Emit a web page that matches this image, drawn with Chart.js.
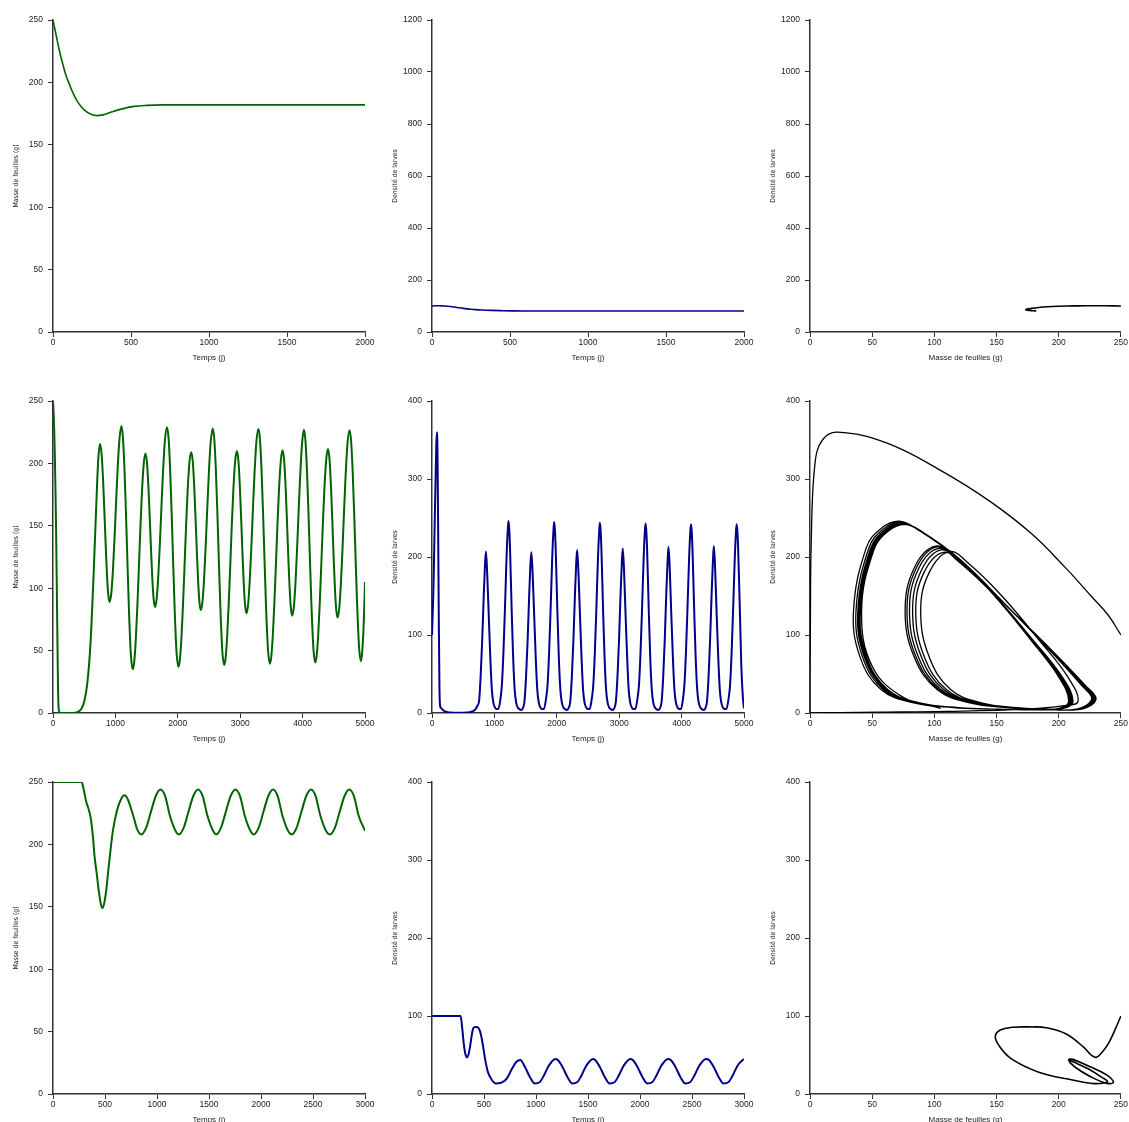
<!DOCTYPE html>
<html>
<head>
<meta charset="utf-8">
<script src="https://cdn.jsdelivr.net/npm/chart.js@4.4.0/dist/chart.umd.min.js"></script>
<style>
body { margin: 0; background: #fff; width: 1129px; height: 1122px; overflow: hidden; position: relative; }
canvas { position: absolute; }
</style>
</head>
<body>
<script>
// row 1 : stable equilibrium
const t1 = [0, 20, 40, 60, 80, 100, 130, 160, 200, 250, 280, 320, 380, 450, 520, 600, 700, 800, 1000, 1500, 2000];
const leaves1 = [250, 238, 226, 216, 207, 200, 191, 184, 178, 174, 173.4, 174, 176.5, 179, 180.8, 181.6, 182, 182, 182, 182, 182];
const larvae1 = [100, 100.8, 101, 100.6, 100, 99, 97, 94.5, 91, 87.5, 86, 84.5, 83, 82, 81.3, 81, 80.8, 80.8, 80.8, 80.8, 80.8];

// row 2 : oscillations
const t2 = [0, 10, 20, 30, 40, 50, 60, 70, 80, 85, 90, 100, 110, 120, 130, 150, 175, 200, 250, 300, 350, 400, 450, 500, 550, 600, 650, 700, 725,
  754, 779, 804, 829, 849, 864, 884, 907, 934, 959, 984, 1009, 1034, 1064,
  1097, 1120, 1145, 1170, 1195, 1215, 1225, 1237, 1250, 1277, 1300, 1325, 1350, 1375, 1400, 1425, 1455,
  1482, 1507, 1532, 1557, 1577, 1592, 1612, 1635, 1662, 1687, 1712, 1737, 1762, 1792,
  1827, 1852, 1877, 1902, 1927, 1947, 1957, 1969, 1982, 2009, 2032, 2057, 2082, 2107, 2132, 2157, 2187,
  2216, 2241, 2266, 2291, 2311, 2326, 2346, 2369, 2396, 2421, 2446, 2471, 2496, 2526,
  2560, 2585, 2610, 2635, 2660, 2680, 2690, 2702, 2715, 2742, 2765, 2790, 2815, 2840, 2865, 2890, 2920,
  2947, 2972, 2997, 3022, 3042, 3057, 3077, 3100, 3127, 3152, 3177, 3202, 3227, 3257,
  3292, 3317, 3342, 3367, 3392, 3412, 3422, 3434, 3447, 3474, 3497, 3522, 3547, 3572, 3597, 3622, 3652,
  3680, 3705, 3730, 3755, 3775, 3790, 3810, 3833, 3860, 3885, 3910, 3935, 3960, 3990,
  4022, 4045, 4070, 4095, 4120, 4140, 4150, 4162, 4175, 4202, 4225, 4250, 4275, 4300, 4325, 4350, 4380,
  4407, 4432, 4457, 4482, 4502, 4517, 4537, 4560, 4587, 4612, 4637, 4662, 4687, 4717,
  4752, 4777, 4802, 4827, 4852, 4872, 4882, 4894, 4907, 4934, 4957, 4982, 5000];
const leaves2 = [250, 240, 226, 205, 178, 145, 105, 62, 22, 10, 4, 1, 0.3, 0, 0, 0, 0, 0, 0, 0, 0.2, 1, 3, 9, 24, 55, 110, 175, 203,
  215.5, 207.4, 185, 154.3, 128.7, 112, 95.8, 89, 95.8, 113.1, 137.9, 166.4, 193.6, 218.7,
  230, 221, 195.9, 159, 117.5, 85.7, 71.7, 57.4, 45.3, 35, 40.2, 57.1, 83.3, 114.9, 147.5, 176.3, 200.2,
  208, 200.1, 178.4, 148.5, 123.6, 107.4, 91.6, 85, 91.9, 109.6, 135, 164, 191.8, 217.5,
  229, 220.2, 195.4, 159.1, 118.2, 86.9, 73.1, 59, 47.2, 37, 42.2, 59, 85, 116.5, 148.8, 177.5, 201.3,
  209, 200.9, 178.5, 147.8, 122.2, 105.5, 89.3, 82.5, 89.5, 107.4, 133, 162.4, 190.5, 216.4,
  228, 219.3, 194.8, 159, 118.7, 87.8, 74.1, 60.3, 48.5, 38.5, 43.6, 60.5, 86.3, 117.7, 150, 178.6, 202.3,
  210, 201.7, 178.7, 147.1, 120.8, 103.7, 87, 80, 87.1, 105.2, 131.2, 161, 189.4, 215.7,
  227.5, 218.9, 194.6, 159.1, 119, 88.4, 74.8, 61.2, 49.5, 39.5, 44.6, 61.4, 87.2, 118.5, 150.7, 179.2, 202.8,
  210.5, 202, 178.6, 146.4, 119.6, 102.1, 85.2, 78, 85.2, 103.5, 129.7, 159.8, 188.6, 215.1,
  227, 218.4, 194.4, 159.1, 119.4, 89, 75.6, 62, 50.4, 40.5, 45.6, 62.4, 88.2, 119.5, 151.7, 180.2, 203.8,
  211.5, 202.9, 179, 146.2, 118.9, 101.1, 83.8, 76.5, 83.7, 102.2, 128.5, 158.9, 187.8, 214.5,
  226.5, 218, 194.1, 159.2, 119.8, 89.6, 76.3, 62.8, 51.3, 41.5, 50, 75, 105];
const larvae2 = [100, 125, 150, 187, 230, 271, 311, 346, 360, 350, 320, 220, 110, 30, 9, 6, 4, 2.5, 1, 0.5, 0.3, 0.2, 0.2, 0.3, 0.5, 1, 2, 5, 9,
  15, 46, 92, 150, 190, 207, 180, 131, 72, 30, 13, 7, 5, 5,
  18, 36, 78, 136, 200, 236, 246, 237, 212, 131, 72, 30, 13, 7, 5, 4, 6,
  15, 46, 92, 150, 190, 206, 180, 131, 72, 30, 13, 7, 5, 5,
  18, 36, 78, 136, 200, 235, 245, 236, 211, 131, 72, 30, 13, 7, 5, 4, 6,
  15, 46, 93, 152, 192, 209, 182, 131, 72, 30, 13, 7, 5, 5,
  18, 36, 78, 136, 199, 234, 244, 235, 210, 131, 72, 30, 13, 7, 5, 4, 6,
  15, 46, 93, 153, 193, 211, 184, 131, 72, 30, 13, 7, 5, 5,
  18, 36, 78, 136, 199, 234, 243, 234, 210, 131, 72, 30, 13, 7, 5, 4, 6,
  15, 46, 94, 154, 194, 213, 185, 131, 72, 30, 13, 7, 5, 5,
  18, 36, 78, 136, 198, 233, 242, 233, 209, 131, 72, 30, 13, 7, 5, 4, 6,
  15, 46, 94, 155, 195, 214, 186, 131, 72, 30, 13, 7, 5, 5,
  18, 36, 78, 136, 198, 233, 242, 233, 209, 131, 60, 20, 6];

// row 3 : damped towards a small cycle
const t3 = [0, 100, 200, 275, 290, 305, 320, 336, 350, 365, 384, 400, 420, 440, 458, 474, 490, 510, 538, 576, 615, 656, 688, 720, 768, 810,
  849, 894, 941, 989, 1034, 1079, 1124, 1186,
  1210, 1255, 1302, 1350, 1395, 1440, 1485, 1547,
  1569, 1614, 1661, 1709, 1754, 1799, 1844, 1906,
  1931, 1976, 2023, 2071, 2116, 2161, 2206, 2268,
  2296, 2341, 2388, 2436, 2481, 2526, 2571, 2633,
  2664, 2709, 2756, 2804, 2849, 2894, 2939, 3000];
const leaves3 = [250, 250, 250, 250, 246, 240, 234, 230, 226, 220, 206, 190, 177, 163, 153, 149, 152, 162, 184, 211, 227, 236.6, 239.3, 236, 224, 212,
  208, 213, 226, 239, 244, 238.5, 223, 209.7,
  208, 213, 226, 239, 244, 238.5, 223, 209.7,
  208, 213, 226, 239, 244, 238.5, 223, 209.7,
  208, 213, 226, 239, 244, 238.5, 223, 209.7,
  208, 213, 226, 239, 244, 238.5, 223, 209.7,
  208, 213, 226, 239, 244, 238.5, 223, 211];
const larvae3 = [100, 100, 100, 100, 85, 65, 52, 47, 50, 60, 77, 85, 86, 85.5, 82, 74, 62, 45, 28, 18, 13.5, 14, 16, 20, 32, 41,
  43.5, 34.6, 21.9, 13.6, 15, 24.5, 36.6, 45,
  43.5, 34.6, 21.9, 13.6, 15, 24.5, 36.6, 45,
  43.5, 34.6, 21.9, 13.6, 15, 24.5, 36.6, 45,
  43.5, 34.6, 21.9, 13.6, 15, 24.5, 36.6, 45,
  43.5, 34.6, 21.9, 13.6, 15, 24.5, 36.6, 45,
  43.5, 34.6, 21.9, 13.6, 15, 24.5, 36.6, 45];

const leavesTitle = 'Masse de feuilles (g)';
const larvaeTitle = 'Densité de larves';
const timeTitle = 'Temps (j)';

const tickFont = {family: "'Liberation Sans', Arial, sans-serif", size: 8.5};
const xTitleFont = {family: "'Liberation Sans', Arial, sans-serif", size: 8};
const yTitleFont = {family: "'Liberation Sans Narrow', 'DejaVu Sans Condensed', 'Liberation Sans', Arial, sans-serif", size: 6.8};

function pairs(xs, ys) {
    return xs.map((x, i) => ({x: x, y: ys[i]}));
}

function axis(max, step, title, isX) {
    return {
        type: 'linear',
        min: 0,
        max: max,
        afterFit: s => { if (isX) s.height = 38; else s.width = 53; },
        grid: {drawOnChartArea: false, drawTicks: true, tickLength: 5, color: '#333', lineWidth: 1},
        border: {display: true, color: '#333', width: 1.5},
        ticks: {
            stepSize: step, padding: isX ? 1 : 5, color: '#222', font: tickFont,
            maxRotation: 0, autoSkip: false, callback: v => String(v)
        },
        title: {
            display: true, text: title, color: '#222',
            font: isX ? xTitleFont : yTitleFont,
            padding: isX ? {top: 0, bottom: 7.5} : {top: 12.5, bottom: 0}
        }
    };
}

function createChart(left, top, rightPad, xs, ys, o) {
    let canvas = document.createElement('canvas');
    canvas.width = 53 + 312 + rightPad;
    canvas.height = 20 + 312 + 38;
    canvas.style.left = left + 'px';
    canvas.style.top = top + 'px';
    document.body.append(canvas);
    new Chart(canvas, {
        type: 'line',
        data: {
            datasets: [{
                data: pairs(xs, ys),
                borderColor: o.color,
                borderWidth: o.width,
                pointRadius: 0,
                fill: false,
                cubicInterpolationMode: o.phase ? 'default' : 'monotone',
                tension: o.phase ? 0.4 : 0
            }]
        },
        options: {
            responsive: false,
            animation: false,
            events: [],
            layout: {padding: {top: 20, right: rightPad, left: 0, bottom: 0}},
            plugins: {legend: {display: false}, tooltip: {enabled: false}},
            scales: {
                x: axis(o.xMax, o.xStep, o.xTitle, true),
                y: axis(o.yMax, o.yStep, o.yTitle, false)
            }
        }
    });
}

const green = '#006400', navy = '#00008b', black = '#000000';
const cols = [0, 379, 757];
const rows = [0, 381, 762];
const pads = [14, 14, 7];

// row 1
createChart(cols[0], rows[0], pads[0], t1, leaves1, {color: green, width: 1.6, xMax: 2000, xStep: 500, yMax: 250, yStep: 50, xTitle: timeTitle, yTitle: leavesTitle});
createChart(cols[1], rows[0], pads[1], t1, larvae1, {color: navy, width: 1.6, xMax: 2000, xStep: 500, yMax: 1200, yStep: 200, xTitle: timeTitle, yTitle: larvaeTitle});
createChart(cols[2], rows[0], pads[2], leaves1, larvae1, {color: black, width: 1.6, phase: true, xMax: 250, xStep: 50, yMax: 1200, yStep: 200, xTitle: leavesTitle, yTitle: larvaeTitle});

// row 2
createChart(cols[0], rows[1], pads[0], t2, leaves2, {color: green, width: 2, xMax: 5000, xStep: 1000, yMax: 250, yStep: 50, xTitle: timeTitle, yTitle: leavesTitle});
createChart(cols[1], rows[1], pads[1], t2, larvae2, {color: navy, width: 2, xMax: 5000, xStep: 1000, yMax: 400, yStep: 100, xTitle: timeTitle, yTitle: larvaeTitle});
createChart(cols[2], rows[1], pads[2], leaves2, larvae2, {color: black, width: 1.3, phase: true, xMax: 250, xStep: 50, yMax: 400, yStep: 100, xTitle: leavesTitle, yTitle: larvaeTitle});

// row 3
createChart(cols[0], rows[2], pads[0], t3, leaves3, {color: green, width: 2, xMax: 3000, xStep: 500, yMax: 250, yStep: 50, xTitle: timeTitle, yTitle: leavesTitle});
createChart(cols[1], rows[2], pads[1], t3, larvae3, {color: navy, width: 2, xMax: 3000, xStep: 500, yMax: 400, yStep: 100, xTitle: timeTitle, yTitle: larvaeTitle});
createChart(cols[2], rows[2], pads[2], leaves3, larvae3, {color: black, width: 1.6, phase: true, xMax: 250, xStep: 50, yMax: 400, yStep: 100, xTitle: leavesTitle, yTitle: larvaeTitle});
</script>
</body>
</html>
